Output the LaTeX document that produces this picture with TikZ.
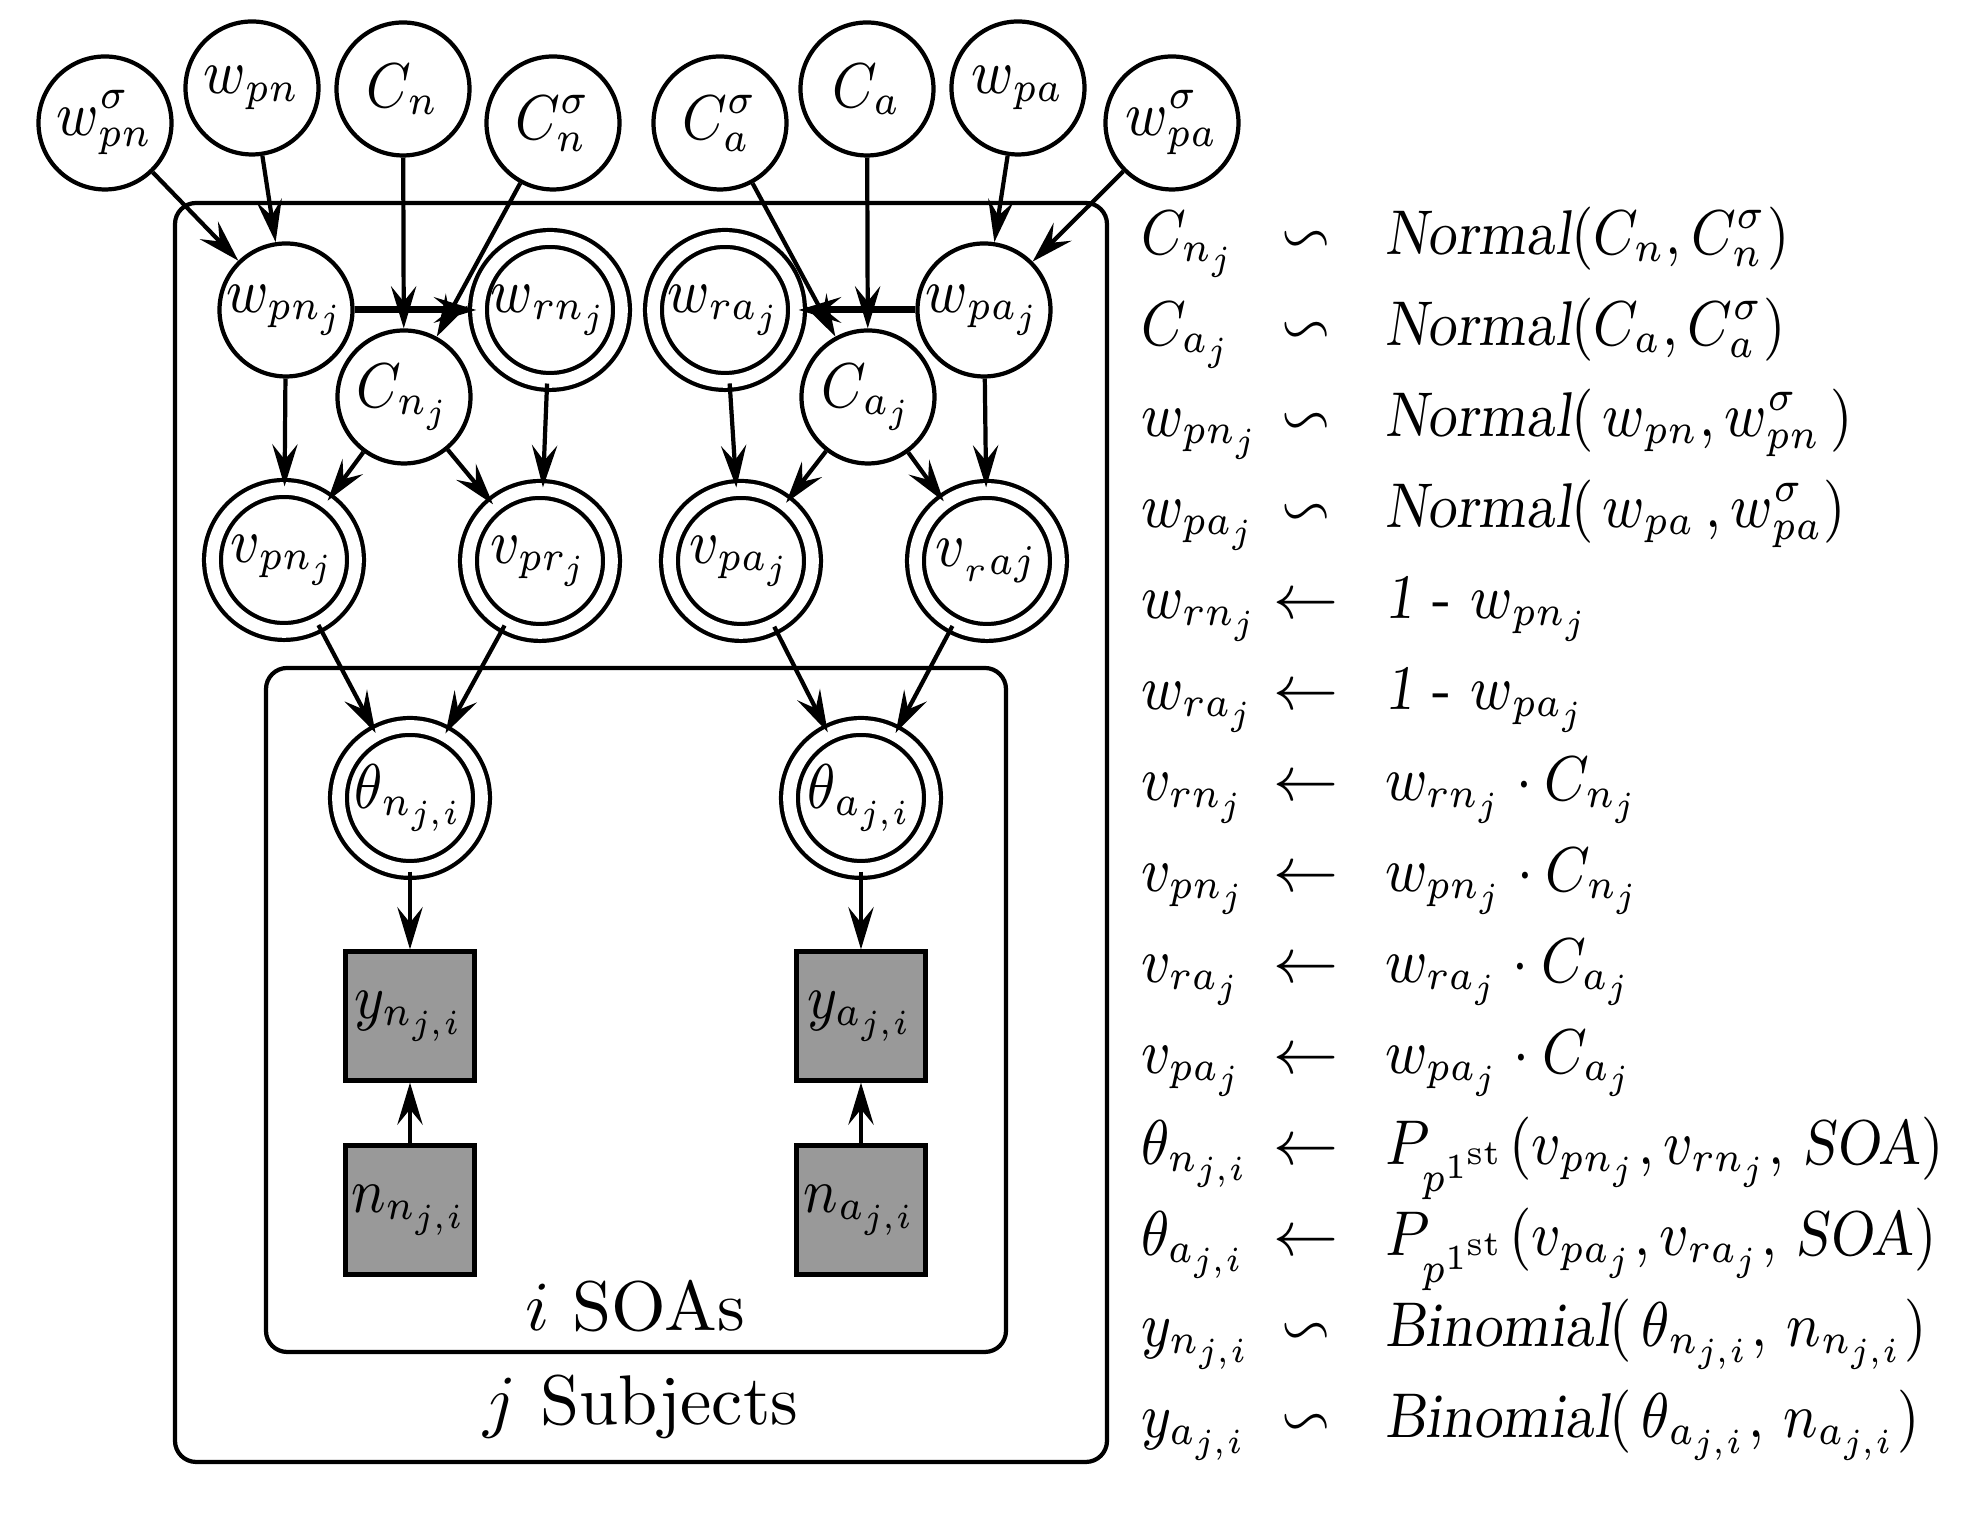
\documentclass[tikz,border=0pt]{standalone}
\usepackage{amssymb}
\usepackage{graphicx}
\usetikzlibrary{arrows.meta}
\newcommand{\lbl}[1]{\scalebox{0.88}[1]{$#1$}}
\newcommand{\eqline}[3]{\makebox[12.3pt][l]{\lbl{#1}}\makebox[22.4pt][c]{$#2$}\scalebox{0.88}[1]{#3}}
\newcommand{\firstst}{\mbox{\tiny 1\textsuperscript{st}}}

\begin{document}
\begin{tikzpicture}[x=0.5cm, y=-0.5cm, line width=0.6pt, font=\fontsize{9}{11}\selectfont,
        >={Stealth[length=6pt, width=3.6pt, inset=2.2pt]}]
        \useasboundingbox (0,0) rectangle (19.66,15.15);

        % plates
        \begin{scope}[every node/.style={draw, rounded corners=3pt, inner sep=0pt}]
            \node (Subj) [minimum width=4.66cm, minimum height=6.295cm] at (6.41, 8.325) {};
            \node (SOAs) [minimum width=3.70cm, minimum height=3.42cm] at (6.36, 10.10) {};
        \end{scope}
        \node (SubjLabel) [font=\normalsize] at (6.41, 14.065) {$j$ Subjects};
        \node (SOAsLabel) [font=\normalsize] at (6.35, 13.06) {$i$ SOAs};

        % stochastic nodes
        \begin{scope}[every node/.style={circle, draw, inner sep=0pt, minimum size=6.65mm}]
            \node (wpnS) at (1.05, 1.23) {\lbl{w^\sigma_{pn}}};
            \node (wpn) at (2.52, 0.88) {\lbl{w_{pn}}};
            \node (Cn) at (4.03, 0.89) {\lbl{C_n}};
            \node (CnS) at (5.53, 1.23) {\lbl{C^\sigma_n}};
            \node (CaS) at (7.20, 1.23) {\lbl{C^\sigma_a}};
            \node (Ca) at (8.67, 0.89) {\lbl{C_a}};
            \node (wpa) at (10.18, 0.88) {\lbl{w_{pa}}};
            \node (wpaS) at (11.72, 1.23) {\lbl{w^\sigma_{pa}}};
            \node (wpnj) at (2.86, 3.10) {\lbl{w_{pn_j}}};
            \node (wpaj) at (9.84, 3.10) {\lbl{w_{pa_j}}};
            \node (Cnj) at (4.04, 3.97) {\lbl{C_{n_j}}};
            \node (Caj) at (8.68, 3.97) {\lbl{C_{a_j}}};
        \end{scope}

        % deterministic nodes
        \begin{scope}[every node/.style={circle, draw, double, double distance=1.8pt, inner sep=0pt, minimum size=7.15mm}]
            \node (wrnj) at (5.50, 3.10) {\lbl{w_{rn_j}}};
            \node (wraj) at (7.25, 3.10) {\lbl{w_{ra_j}}};
            \node (vpnj) at (2.84, 5.60) {\lbl{v_{pn_j}}};
            \node (vprj) at (5.40, 5.61) {\lbl{v_{pr_j}}};
            \node (vpaj) at (7.41, 5.61) {\lbl{v_{pa_j}}};
            \node (vraj) at (9.87, 5.61) {\lbl{v_{{}_raj}}};
            \node (thn) at (4.10, 7.98) {\lbl{\theta_{n_{j,i}}}};
            \node (tha) at (8.61, 7.98) {\lbl{\theta_{a_{j,i}}}};
        \end{scope}

        % observed nodes
        \begin{scope}[every node/.style={rectangle, draw, fill=black!40, inner sep=0pt, minimum size=6.45mm}]
            \node (yn) at (4.10, 10.16) {\lbl{y_{n_{j,i}}}};
            \node (ya) at (8.61, 10.16) {\lbl{y_{a_{j,i}}}};
            \node (nn) at (4.10, 12.10) {\lbl{n_{n_{j,i}}}};
            \node (na) at (8.61, 12.10) {\lbl{n_{a_{j,i}}}};
        \end{scope}

        \begin{scope}[every edge/.style={draw=black, line width=0.6pt}]
            \path [->] (wpnS) edge (wpnj);
            \path [->] (wpn) edge (wpnj);
            \path [->] (Cn) edge (Cnj);
            \path [->] (CnS) edge (Cnj);
            \path [->] (CaS) edge (Caj);
            \path [->] (Ca) edge (Caj);
            \path [->] (wpa) edge (wpaj);
            \path [->] (wpaS) edge (wpaj);
            \path [->] (wpnj) edge[line width=1pt] (wrnj);
            \path [->] (wpaj) edge[line width=1pt] (wraj);
            \path [->] (wpnj) edge (vpnj);
            \path [->] (Cnj) edge (vpnj);
            \path [->] (Cnj) edge (vprj);
            \path [->] (wrnj) edge (vprj);
            \path [->] (wraj) edge (vpaj);
            \path [->] (Caj) edge (vpaj);
            \path [->] (Caj) edge (vraj);
            \path [->] (wpaj) edge (vraj);
            \path [->] (vpnj) edge (thn);
            \path [->] (vprj) edge (thn);
            \path [->] (vpaj) edge (tha);
            \path [->] (vraj) edge (tha);
            \path [->] (thn) edge (yn);
            \path [->] (tha) edge (ya);
            \path [->] (nn) edge (yn);
            \path [->] (na) edge (ya);
        \end{scope}

        % model equations
        \begin{scope}[every node/.style={anchor=base west, inner sep=0pt}]
            \node (eqCnj) at (11.39, 2.55) {\eqline{C_{n_j}}{\backsim}{$\textsl{Normal}(C_n, C^\sigma_n)$}};
            \node (eqCaj) at (11.39, 3.46) {\eqline{C_{a_j}}{\backsim}{$\textsl{Normal}(C_a, C^\sigma_a)$}};
            \node (eqwpnj) at (11.39, 4.37) {\eqline{w_{pn_j}}{\backsim}{$\textsl{Normal}(\,w_{pn}, w^\sigma_{pn}\,)$}};
            \node (eqwpaj) at (11.39, 5.28) {\eqline{w_{pa_j}}{\backsim}{$\textsl{Normal}(\,w_{pa}\,, w^\sigma_{pa})$}};
            \node (eqwrnj) at (11.39, 6.19) {\eqline{w_{rn_j}}{\leftarrow}{\textsl{1} - $w_{pn_j}$}};
            \node (eqwraj) at (11.39, 7.10) {\eqline{w_{ra_j}}{\leftarrow}{\textsl{1} - $w_{pa_j}$}};
            \node (eqvrnj) at (11.39, 8.01) {\eqline{v_{rn_j}}{\leftarrow}{$w_{rn_j}\cdot C_{n_j}$}};
            \node (eqvpnj) at (11.39, 8.92) {\eqline{v_{pn_j}}{\leftarrow}{$w_{pn_j}\cdot C_{n_j}$}};
            \node (eqvraj) at (11.39, 9.83) {\eqline{v_{ra_j}}{\leftarrow}{$w_{ra_j}\cdot C_{a_j}$}};
            \node (eqvpaj) at (11.39, 10.74) {\eqline{v_{pa_j}}{\leftarrow}{$w_{pa_j}\cdot C_{a_j}$}};
            \node (eqthn) at (11.39, 11.65) {\eqline{\theta_{n_{j,i}}}{\leftarrow}{$P_{p^{\firstst}}(v_{pn_j}, v_{rn_j},\, \textsl{SOA})$}};
            \node (eqtha) at (11.39, 12.56) {\eqline{\theta_{a_{j,i}}}{\leftarrow}{$P_{p^{\firstst}}(v_{pa_j}, v_{ra_j},\, \textsl{SOA})$}};
            \node (eqyn) at (11.39, 13.47) {\eqline{y_{n_{j,i}}}{\backsim}{$\textsl{Binomial}(\,\theta_{n_{j,i}},\, n_{n_{j,i}})$}};
            \node (eqya) at (11.39, 14.38) {\eqline{y_{a_{j,i}}}{\backsim}{$\textsl{Binomial}(\,\theta_{a_{j,i}},\, n_{a_{j,i}})$}};
        \end{scope}
    \end{tikzpicture}
\end{document}
